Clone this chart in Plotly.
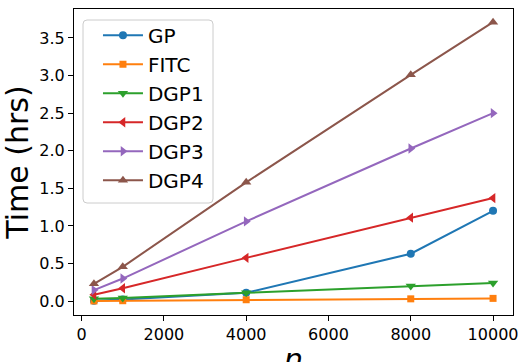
import plotly.graph_objects as go

n = [300, 1000, 4000, 8000, 10000]
gp = [0.005, 0.02, 0.11, 0.63, 1.20]
fitc = [0.002, 0.005, 0.018, 0.03, 0.036]
dgp1 = [0.03, 0.04, 0.11, 0.20, 0.24]
dgp2 = [0.085, 0.17, 0.575, 1.11, 1.37]
dgp3 = [0.146, 0.30, 1.06, 2.03, 2.50]
dgp4 = [0.23, 0.456, 1.58, 3.01, 3.71]
x_ticks = [0, 2000, 4000, 6000, 8000, 10000]
y_ticks = [0, 0.5, 1, 1.5, 2, 2.5, 3, 3.5]

series = [
    ("GP", gp, "#1f77b4", "circle", 8),
    ("FITC", fitc, "#ff7f0e", "square", 7),
    ("DGP1", dgp1, "#2ca02c", "triangle-down", 9),
    ("DGP2", dgp2, "#d62728", "triangle-left", 9),
    ("DGP3", dgp3, "#9467bd", "triangle-right", 9),
    ("DGP4", dgp4, "#8c564b", "triangle-up", 9),
]

fig = go.Figure()
for name, vals, color, sym, sz in series:
    fig.add_trace(go.Scatter(
        x=n, y=vals, name=name, mode="lines+markers", legendgroup=name,
        line=dict(color=color, width=2),
        marker=dict(symbol=sym, size=sz, color=color, line=dict(width=0)),
    ))

axis_common = dict(
    showline=True, linecolor="black", linewidth=1, mirror=True,
    ticks="outside", ticklen=5, tickcolor="black", tickwidth=1,
    showgrid=False, zeroline=False, automargin=False,
    tickfont=dict(family="DejaVu Sans", size=16, color="black"),
)
fig.update_xaxes(range=[-185, 10485], tickvals=x_ticks, ticktext=[str(v) for v in x_ticks],
                 **axis_common)
fig.update_yaxes(range=[-0.185, 3.885], tickvals=y_ticks, ticktext=["%.1f" % v for v in y_ticks],
                 title=dict(text="Time (hrs)", font=dict(family="DejaVu Sans", size=30, color="black")),
                 **axis_common)

fig.add_annotation(text="<i>n</i>", xref="paper", yref="paper", x=0.5, y=0,
                   xanchor="center", yanchor="top", yshift=-25, showarrow=False,
                   font=dict(family="DejaVu Sans", size=30, color="black"))

# legend frame (rounded box like matplotlib)
W, H = 439.0, 306.0
x0, x1 = 9 / W, 139 / W
y1, y0 = 295 / H, 112 / H
rx, ry = 4 / W, 4 / H
path = (f"M {x0+rx},{y1} L {x1-rx},{y1} Q {x1},{y1} {x1},{y1-ry} "
        f"L {x1},{y0+ry} Q {x1},{y0} {x1-rx},{y0} L {x0+rx},{y0} "
        f"Q {x0},{y0} {x0},{y0+ry} L {x0},{y1-ry} Q {x0},{y1} {x0+rx},{y1} Z")
fig.add_shape(type="path", path=path, xref="paper", yref="paper",
              fillcolor="rgba(255,255,255,0.8)", line=dict(color="#cccccc", width=1), layer="above")

fig.update_layout(
    width=520, height=362,
    margin=dict(l=74, r=7, t=9, b=47),
    plot_bgcolor="white", paper_bgcolor="white",
    font=dict(family="DejaVu Sans", color="black"),
    legend=dict(x=0.0546, y=0.978, xanchor="left", yanchor="top",
                bgcolor="rgba(0,0,0,0)", borderwidth=0,
                font=dict(family="DejaVu Sans", size=20, color="black"),
                itemwidth=40, tracegroupgap=0),
)
fig.write_html("out.html", config={"displayModeBar": False},
               post_script="document.body.style.margin='0';document.body.style.overflow='hidden';")
